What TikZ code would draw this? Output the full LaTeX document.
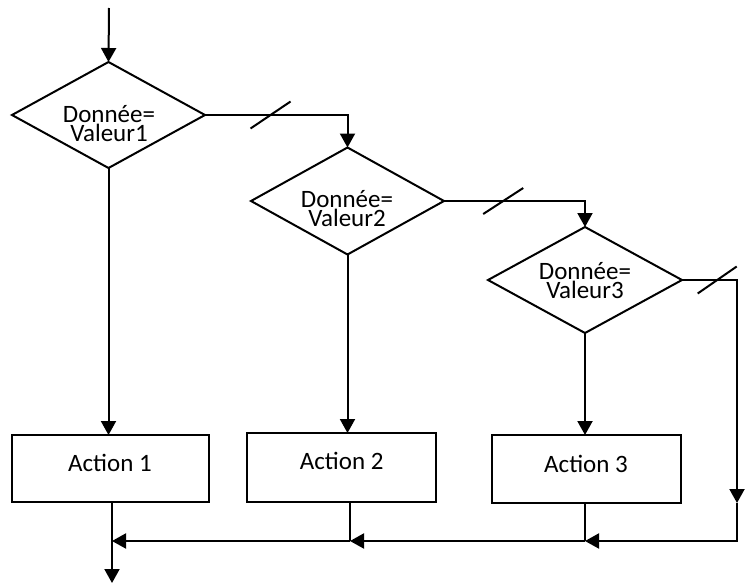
\documentclass[tikz,border=0pt]{standalone}
\usepackage{fontspec}
\setmainfont{Carlito}
\usetikzlibrary{shapes.geometric,arrows.meta,calc}
\begin{document}
\begin{tikzpicture}[x=1pt,y=-1pt,
  line width=2pt,
  every node/.style={inner sep=0pt,outer sep=0pt},
  test/.style={draw,diamond,minimum width=193pt,minimum height=106pt},
  action/.style={draw,rectangle,minimum width=189pt,minimum height=68pt},
  lbl/.style={font=\fontsize{25}{19}\selectfont,align=center},
  flow/.style={-{Triangle[length=14pt,width=15pt]}},
  tick/.style={line width=2pt}
]
\useasboundingbox (0,0) rectangle (750,584);

% decision diamonds
\node[test] (d1) at (108.5,115) {};
\node[test,minimum height=107pt] (d2) at (347.5,201) {};
\node[test,minimum width=194pt] (d3) at (585,280) {};
\node[lbl] (t1) at (109,123.5) {Donnée=\\Valeur1};
\node[lbl] (t2) at (347,209) {Donnée=\\Valeur2};
\node[lbl] (t3) at (585,280.5) {Donnée=\\Valeur3};

% action boxes
\node[action,minimum width=197pt,minimum height=67pt] (a1) at (110.5,468.5) {};
\node[action,minimum height=69pt] (a2) at (341.5,467.5) {};
\node[action] (a3) at (586.5,469) {};
\node[lbl] (ta1) at (110,463) {Action 1};
\node[lbl] (ta2) at (341.7,461) {Action 2};
\node[lbl] (ta3) at (586,463.5) {Action 3};

% entry
\coordinate (start) at (109,8);
\draw[flow] (start) -- (d1.north);

% "no" branches
\draw[flow] (d1.east) -| coordinate[pos=0.23] (s1) (d2.north);
\draw[flow] (d2.east) -| coordinate[pos=0.21] (s2) (d3.north);
\coordinate (rdown) at (737,503);
\coordinate (rcorner) at (737,541);
\draw[flow] (d3.east) -| coordinate[pos=0.32] (s3) (rdown);

% slash marks on the "no" branches
\draw[tick] ($(s1)+(-20,13.5)$) -- ($(s1)+(20,-13.5)$);
\draw[tick] ($(s2)+(-20,13)$) -- ($(s2)+(20,-13)$);
\draw[tick] ($(s3)+(-19.5,13.5)$) -- ($(s3)+(19.5,-13.5)$);

% "yes" branches
\draw[flow] (d1.south) -- (d1.south |- a1.north);
\draw[flow] (d2.south) -- (d2.south |- a2.north);
\draw[flow] (d3.south) -- (d3.south |- a3.north);

% merging lines
\coordinate (a3out) at ($(a3.south)+(-1.5,0)$);
\coordinate (a2out) at ($(a2.south)+(8.5,0)$);
\coordinate (a1out) at ($(a1.south)+(1.5,0)$);
\coordinate (m3) at (a3out |- rcorner);
\coordinate (m2) at (a2out |- rcorner);
\coordinate (m1) at (a1out |- rcorner);
\coordinate (exit) at ($(a1out)+(0,81)$);
\draw (a3out) -- (m3);
\draw (a2out) -- (m2);
\draw[flow] (rdown) -- (rcorner) -- (m3);
\draw[flow] (m3) -- (m2);
\draw[flow] (m2) -- (m1);
\draw[flow] (a1out) -- (exit);
\end{tikzpicture}
\end{document}
